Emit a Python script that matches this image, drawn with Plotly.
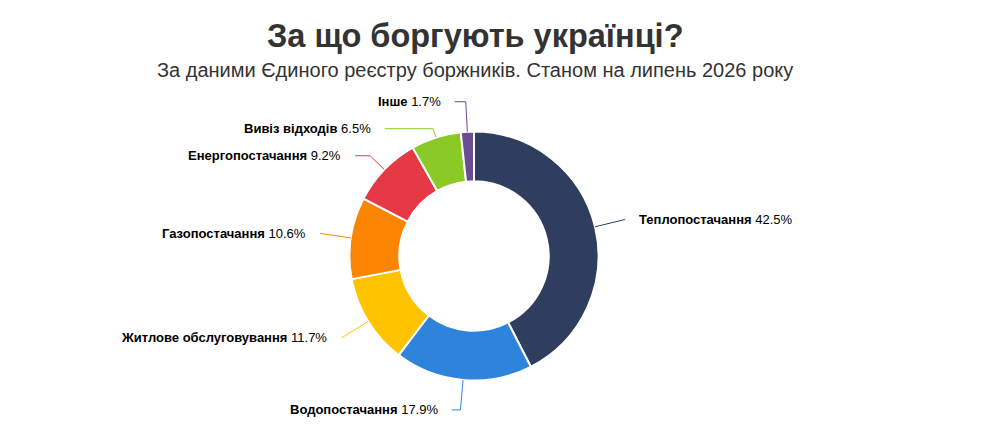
"""
Donut chart: what Ukrainians owe for
"""

import math
import plotly.graph_objs as go

categories = ['Теплопостачання', 'Водопостачання', 'Житлове обслуговування',
              'Газопостачання', 'Енергопостачання', 'Вивіз відходів', 'Інше']
shares = [42.5, 17.9, 11.7, 10.6, 9.2, 6.5, 1.7]
colors = ['#2f3e5e', '#2e84da', '#ffc300', '#fb8500', '#e63946', '#8ac926', '#6a4c93']

title_text = 'За що боргують українці?'
subtitle_text = 'За даними Єдиного реєстру боржників. Станом на липень 2026 року'

# page geometry (pixels in the browser window); the page body has an 8px margin
W, H = 985, 436
OFF = 8
FW, FH = W - 2 * OFF, H - 2 * OFF
CX, CY, R = 474, 256, 124.5
LABEL_DIST = 30
LABEL_X_RADIUS = 155.5
LINE_GAP = 27
PAD = 12
FONT = 'Liberation Sans, Arial, sans-serif'


def px(x):
    return (x - OFF) / FW


def py(y):
    return 1 - (y - OFF) / FH


# label placement, the way the original lays out its outside labels
total = sum(shares)
items = []
cum = 0
for name, value, color in zip(categories, shares, colors):
    mid = (cum + value / 2) / total * 2 * math.pi
    cum += value
    sx, sy = math.sin(mid), -math.cos(mid)
    items.append(dict(
        name=name, value=value, color=color, sx=sx, sy=sy,
        ex=CX + R * sx, ey=CY + R * sy,
        y=CY + (R + LABEL_DIST) * sy,
        left=sx < 0,
    ))

for side in (True, False):
    group = sorted([it for it in items if it['left'] == side], key=lambda it: it['y'])
    for prev, cur in zip(group, group[1:]):
        cur['y'] = max(cur['y'], prev['y'] + LINE_GAP)

annotations = []
shapes = []
for it in items:
    dy = it['y'] - CY
    dx = math.sqrt(max(LABEL_X_RADIUS ** 2 - dy ** 2, 0))
    lx = CX - dx if it['left'] else CX + dx
    ly = it['y']

    path = 'M %f,%f' % (px(lx), py(ly))
    if abs(it['sy']) > 1e-6:
        crook = CX + dy / it['sy'] * it['sx']
        if min(lx, it['ex']) <= crook <= max(lx, it['ex']):
            path += ' L %f,%f' % (px(crook), py(ly))
    path += ' L %f,%f' % (px(it['ex']), py(it['ey']))
    shapes.append(dict(type='path', path=path, xref='paper', yref='paper',
                       line=dict(color=it['color'], width=1)))

    annotations.append(dict(
        x=px(lx - PAD if it['left'] else lx + PAD), y=py(ly),
        xref='paper', yref='paper',
        xanchor='right' if it['left'] else 'left', yanchor='middle',
        text='<b>%s</b> %s%%' % (it['name'], it['value']),
        showarrow=False,
        font=dict(family=FONT, size=13, color='#000000'),
    ))

annotations.append(dict(
    x=px(475), y=py(36), xref='paper', yref='paper',
    xanchor='center', yanchor='middle', showarrow=False,
    text='<b>%s</b>' % title_text,
    font=dict(family=FONT, size=32.5, color='#333333'),
))
annotations.append(dict(
    x=px(475), y=py(70), xref='paper', yref='paper',
    xanchor='center', yanchor='middle', showarrow=False,
    text=subtitle_text,
    font=dict(family=FONT, size=20, color='#333333'),
))

trace = go.Pie(
    labels=categories,
    values=shares,
    hole=0.6,
    sort=False,
    direction='clockwise',
    rotation=0,
    textinfo='none',
    hoverinfo='label+percent',
    marker=dict(colors=colors, line=dict(color='#ffffff', width=2)),
    domain=dict(x=[px(CX - R), px(CX + R)], y=[py(CY + R), py(CY - R)]),
    showlegend=False,
)

layout = go.Layout(
    width=FW,
    height=FH,
    margin=dict(l=0, r=0, t=0, b=0),
    paper_bgcolor='#ffffff',
    plot_bgcolor='#ffffff',
    annotations=annotations,
    shapes=shapes,
)

fig = go.Figure(data=[trace], layout=layout)
fig.write_html('out.html')
